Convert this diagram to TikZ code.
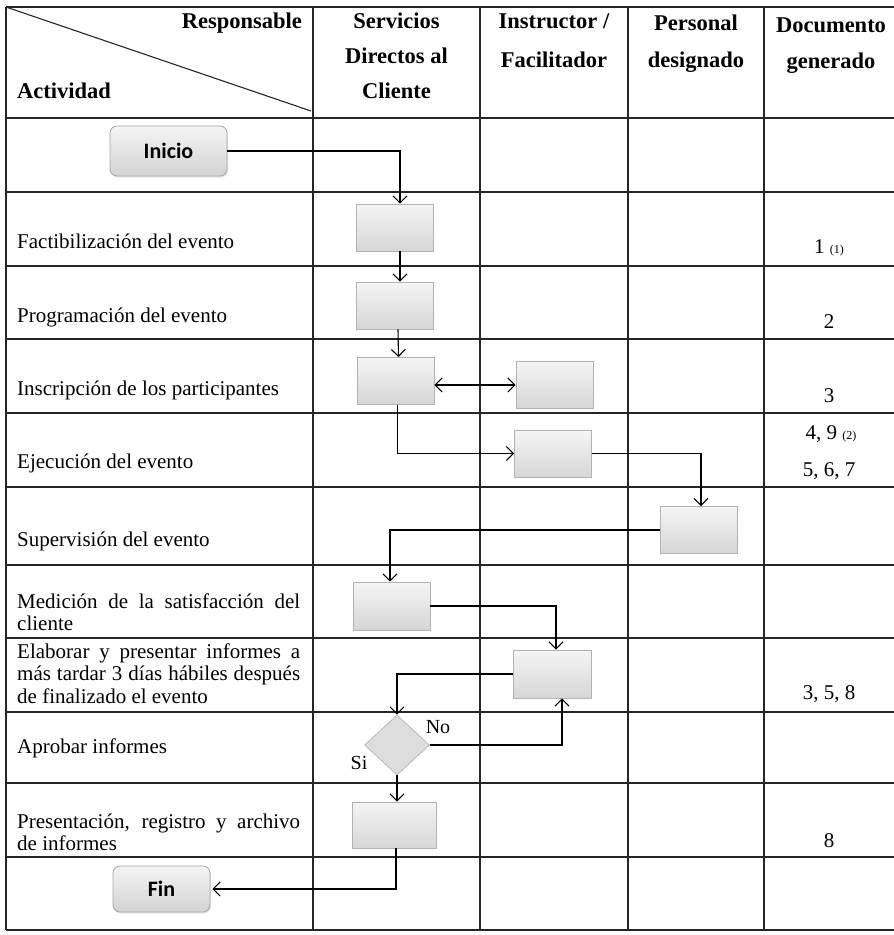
\documentclass[tikz,border=0pt]{standalone}
\usepackage{fontspec}
\setmainfont{Liberation Serif}
\newfontfamily\boxfont{Carlito}
\usetikzlibrary{arrows.meta,shapes.geometric,shadows}
\begin{document}
\begin{tikzpicture}[x=1pt,y=-1pt,
  gridline/.style={draw=black!85, line width=1.1pt},
  proc/.style={draw=gray!60, line width=0.8pt, top color=gray!8, bottom color=gray!32,
    minimum width=77pt, minimum height=47pt, inner sep=0pt},
  term/.style={draw=gray!70, line width=0.8pt, rounded corners=7pt, top color=gray!8,
    bottom color=gray!35, inner sep=0pt, font=\boxfont\bfseries\fontsize{22}{22}\selectfont,
    drop shadow={opacity=0.22, shadow xshift=1pt, shadow yshift=-1.5pt}},
  dec/.style={diamond, draw=gray!55, line width=0.8pt, fill=gray!27, inner sep=0pt,
    minimum width=65pt, minimum height=60pt},
  flow/.style={draw=black, line width=1.1pt, -{Straight Barb[length=7pt,width=14pt]}},
  act/.style={anchor=base west, inner sep=0pt, font=\fontsize{21}{22.5}\selectfont,
    text width=283pt, align=justify},
  hd/.style={anchor=base, inner sep=0pt, font=\bfseries\fontsize{22.5}{36}\selectfont, align=center},
  doc/.style={anchor=base, inner sep=0pt, font=\fontsize{21}{23}\selectfont},
  lbl/.style={anchor=base, inner sep=0pt, font=\fontsize{20}{20}\selectfont}]
\useasboundingbox (0,0) rectangle (894,935);
\hyphenpenalty=10000
% table grid
\begin{scope}
\clip (0,0) rectangle (894,935);
\foreach \yy in {7,118,192,266,339,413,487,565,638,712,783,857,930}
  \draw[gridline] (6,\yy) -- (900,\yy);
\foreach \xx in {6,313,480,628,764}
  \draw[gridline] (\xx,7) -- (\xx,930);
\draw[line width=1.1pt, draw=black!85] (6,7) -- (311,111);
\end{scope}
% header (multi-line nodes: base anchor = last line)
\node[hd, anchor=base east] (hresp) at (302,28) {Responsable};
\node[hd, anchor=base west] (hact) at (17,98) {Actividad};
\node[hd, font=\bfseries\fontsize{22.5}{35}\selectfont] (hserv) at (396.5,98) {Servicios\\Directos al\\Cliente};
\node[hd, font=\bfseries\fontsize{22.5}{39}\selectfont] (hins) at (554,67) {Instructor /\\Facilitador};
\node[hd, font=\bfseries\fontsize{22.5}{37}\selectfont] (hper) at (696,67) {Personal\\designado};
\node[hd, font=\bfseries\fontsize{22.5}{36}\selectfont] (hdoc) at (831,68) {Documento\\generado};
% activities
\node[act] (a1) at (17,248) {Factibilización del evento};
\node[act] (a2) at (17,322) {Programación del evento};
\node[act] (a3) at (17,395) {Inscripción de los participantes};
\node[act] (a4) at (17,468) {Ejecución del evento};
\node[act] (a5) at (17,546) {Supervisión del evento};
\node[act] (a6) at (17,608) {Medición de la satisfacción del\linebreak cliente};
\node[act] (a7) at (17,658) {Elaborar y presentar informes a\linebreak más tardar 3 días hábiles después\linebreak de finalizado el evento};
\node[act] (a8) at (17,753) {Aprobar informes};
\node[act] (a9) at (17,828) {Presentación, registro y archivo\linebreak de informes};
% documents
\node[doc] (d1) at (829,253) {1 {\fontsize{12}{12}\selectfont(1)}};
\node[doc] (d2) at (829,328) {2};
\node[doc] (d3) at (829,402) {3};
\node[doc] (d4) at (831,439) {4, 9 {\fontsize{12}{12}\selectfont(2)}};
\node[doc] (d5) at (829,476) {5, 6, 7};
\node[doc] (d7) at (829,699) {3, 5, 8};
\node[doc] (d9) at (829,847) {8};
% flow shapes
\node[term, minimum width=117pt, minimum height=50pt] (inicio) at (168.5,151) {Inicio};
\node[proc] (b1) at (395,227.5) {};
\node[proc] (b2) at (395,305.5) {};
\node[proc] (b3) at (395.5,381) {};
\node[proc] (i3) at (554.5,384.5) {};
\node[proc] (i4) at (553,453.5) {};
\node[proc] (p5) at (698.5,530) {};
\node[proc, minimum height=48pt] (b6) at (391.5,606) {};
\node[proc, minimum width=78pt, minimum height=48pt] (i7) at (552,674) {};
\node[dec] (dia) at (397,745) {};
\node[proc, minimum width=84pt, minimum height=46pt] (b9) at (394,825) {};
\node[term, minimum width=97pt, minimum height=46pt] (fin) at (161.5,889) {Fin};
\node[lbl] (no) at (438,733) {No};
\node[lbl] (si) at (359,769) {Si};
% connectors
\draw[flow] (inicio.east) -| ([xshift=5pt]b1.north);
\draw[flow] ([xshift=5pt]b1.south) -- ([xshift=5pt]b2.north);
\draw[flow] ([xshift=3pt]b2.south) -- ([xshift=3pt]b3.north);
\draw[flow, {Straight Barb[length=7pt,width=14pt]}-{Straight Barb[length=7pt,width=14pt]}]
  ([yshift=-4pt]b3.east) -- ([yshift=-4pt]b3.east -| i3.west);
\draw[flow] ([xshift=2pt]b3.south) |- (i4.west);
\draw[flow] (i4.east) -| ([xshift=2.5pt]p5.north);
\draw[flow] (p5.west) -| ([xshift=-1.5pt]b6.north);
\draw[flow] (b6.east) -| ([xshift=4pt]i7.north);
\draw[flow] (i7.west) -| (dia.north);
\draw[flow] (dia.east) -| ([xshift=10pt]i7.south);
\draw[flow] (dia.south) -- (dia.south |- b9.north);
\draw[flow] ([xshift=2pt]b9.south) |- ([xshift=2pt]fin.east);
\end{tikzpicture}
\end{document}
